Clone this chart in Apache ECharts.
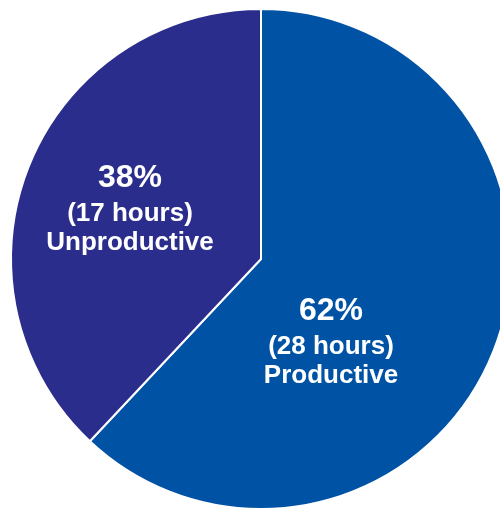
<!DOCTYPE html>
<html>
<head>
<meta charset="utf-8">
<script src="https://cdn.jsdelivr.net/npm/echarts@6/dist/echarts.min.js"></script>
<style>
html,body{margin:0;padding:0;background:#fff;}
#chart{width:500px;height:508px;}
</style>
</head>
<body>
<div id="chart"></div>
<script>
var categories = ['Productive', 'Unproductive'];
var percents = [62, 38];
var hours = [28, 17];
var colors = ['#0052A5', '#2B2D8C'];
// label anchor positions (px) for each slice's text block
var labelPos = [[331, 311], [130, 178]];

var chart = echarts.init(document.getElementById('chart'));
var data = categories.map(function (c, i) {
  return { name: c, value: percents[i], itemStyle: { color: colors[i] } };
});

var graphics = [];
categories.forEach(function (c, i) {
  var x = labelPos[i][0], y = labelPos[i][1];
  var lines = [
    { t: percents[i] + '%', size: 32, dy: 0 },
    { t: '(' + hours[i] + ' hours)', size: 26, dy: 36 },
    { t: c, size: 26, dy: 65 }
  ];
  lines.forEach(function (ln) {
    graphics.push({
      type: 'text',
      x: x, y: y + ln.dy, z: 100,
      style: {
        text: ln.t,
        fill: '#ffffff',
        fontSize: ln.size,
        fontWeight: 'bold',
        fontFamily: 'Liberation Sans, Arial, sans-serif',
        align: 'center',
        verticalAlign: 'middle'
      }
    });
  });
});

var option = {
  backgroundColor: '#fff',
  animation: false,
  series: [{
    type: 'pie',
    center: [261, 259],
    radius: 250,
    startAngle: 90,
    clockwise: true,
    data: data,
    itemStyle: { borderColor: '#fff', borderWidth: 2 },
    label: { show: false },
    labelLine: { show: false },
    emphasis: { disabled: true }
  }],
  graphic: { elements: graphics }
};
chart.setOption(option);
</script>
</body>
</html>
